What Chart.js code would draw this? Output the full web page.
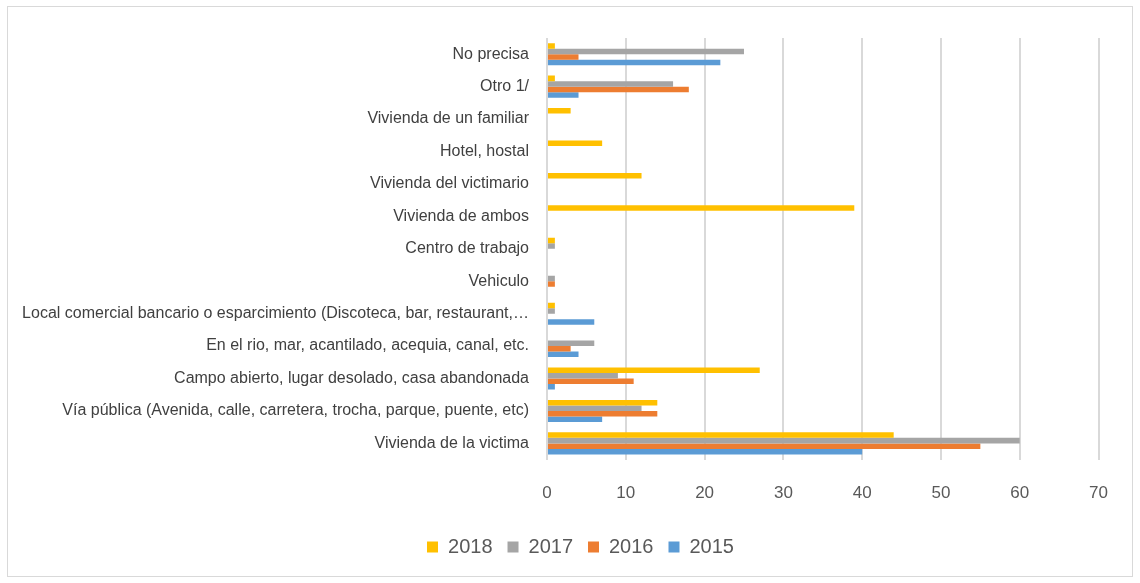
<!DOCTYPE html>
<html>
<head>
<meta charset="utf-8">
<script src="https://cdn.jsdelivr.net/npm/chart.js@4/dist/chart.umd.min.js"></script>
<style>
  html, body { margin: 0; padding: 0; background: #fff; }
  #marco { position: absolute; left: 7px; top: 6px; width: 1126px; height: 571px; border: 1px solid #d9d9d9; box-sizing: border-box; }
  #grafico { position: absolute; left: 0; top: 0; }
</style>
</head>
<body>
<div id="marco"><canvas id="grafico" width="1124" height="569"></canvas></div>
<script>
/* Datos */
const lugares = ['No precisa', 'Otro 1/', 'Vivienda de un familiar', 'Hotel, hostal', 'Vivienda del victimario',
  'Vivienda de ambos', 'Centro de trabajo', 'Vehiculo',
  'Local comercial bancario o esparcimiento (Discoteca, bar, restaurant,…',
  'En el rio, mar, acantilado, acequia, canal, etc.', 'Campo abierto, lugar desolado, casa abandonada',
  'Vía pública (Avenida, calle, carretera, trocha, parque, puente, etc)', 'Vivienda de la victima'];
const anos = ['2018', '2017', '2016', '2015'];
const datos2018 = [1, 1, 3, 7, 12, 39, 1, 0, 1, 0, 27, 14, 44];
const datos2017 = [25, 16, 0, 0, 0, 0, 1, 1, 1, 6, 9, 12, 60];
const datos2016 = [4, 18, 0, 0, 0, 0, 0, 1, 0, 3, 11, 14, 55];
const datos2015 = [22, 4, 0, 0, 0, 0, 0, 0, 6, 4, 1, 7, 40];
const ticksX = [0, 10, 20, 30, 40, 50, 60, 70];
const colores = ['#ffc000', '#a5a5a5', '#ed7d31', '#5b9bd5'];

const series = [datos2018, datos2017, datos2016, datos2015];
const fuente = 'Liberation Sans Narrow, Arial Narrow, Liberation Sans, Arial';
const ctx = document.getElementById('grafico');

// mueve la leyenda un poco como en el original
const moverLeyenda = {
  id: 'moverLeyenda',
  afterLayout(chart) {
    const l = chart.legend;
    l.left += 26; l.right += 26;
    l.top -= 6; l.bottom -= 6;
  }
};

new Chart(ctx, {
  type: 'bar',
  data: {
    labels: lugares,
    datasets: anos.map((a, i) => ({
      label: a,
      data: series[i],
      backgroundColor: colores[i],
      borderWidth: 0,
      categoryPercentage: 0.68,
      barPercentage: 1
    }))
  },
  options: {
    indexAxis: 'y',
    responsive: false,
    animation: false,
    layout: { padding: { top: 31, right: 31, left: 0, bottom: 3 } },
    scales: {
      x: {
        min: 0, max: 70,
        afterBuildTicks: s => { s.ticks = ticksX.map(v => ({ value: v })); },
        grid: { color: '#d9d9d9', lineWidth: 2, drawTicks: false },
        border: { display: false },
        ticks: { color: '#595959', padding: 24, font: { family: fuente, size: 17 } }
      },
      y: {
        afterFit: s => { s.width = 539; },
        grid: { display: false },
        border: { display: false },
        ticks: { color: '#404040', padding: 10, font: { family: fuente, size: 16 } }
      }
    },
    plugins: {
      legend: {
        position: 'bottom',
        labels: { color: '#595959', boxWidth: 11, boxHeight: 11, padding: 15, font: { family: fuente, size: 20 } }
      },
      tooltip: { enabled: false }
    }
  },
  plugins: [moverLeyenda]
});
</script>
</body>
</html>
